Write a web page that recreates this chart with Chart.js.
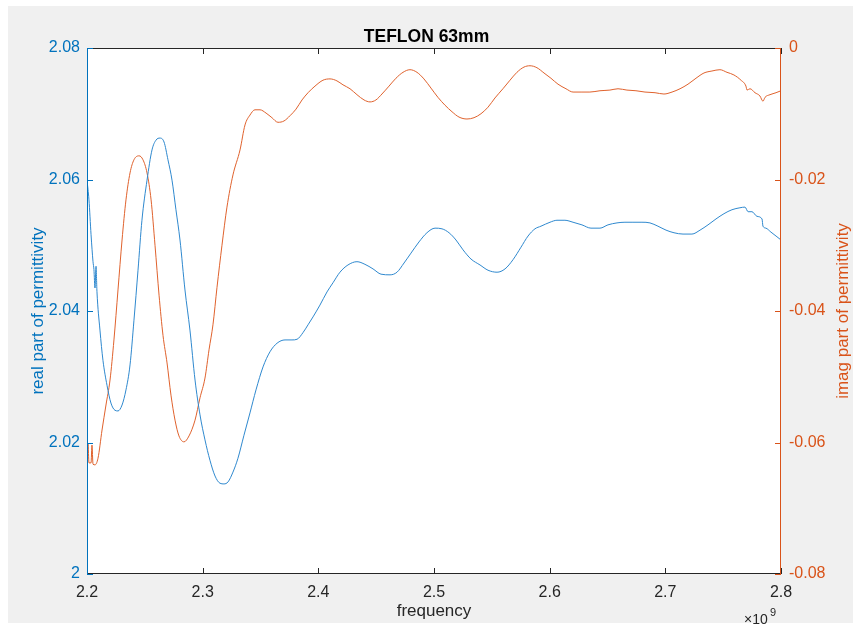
<!DOCTYPE html>
<html>
<head>
<meta charset="utf-8">
<script src="https://cdn.jsdelivr.net/npm/chart.js@4.4.0/dist/chart.umd.min.js"></script>
<style>
  body { margin: 0; background: #fff; }
  canvas { display: block; }
</style>
</head>
<body>
<canvas id="chart" width="853" height="630"></canvas>
<script>
// frequency in units of 1e9 Hz (axis shows x10^9)
const realFreq = [2.2000, 2.2017, 2.2035, 2.2052, 2.2060, 2.2069, 2.2078, 2.2086, 2.2112, 2.2138, 2.2173, 2.2207, 2.2242, 2.2268, 2.2303, 2.2337, 2.2372, 2.2406, 2.2441, 2.2475, 2.2519, 2.2562, 2.2597, 2.2631, 2.2666, 2.2700, 2.2735, 2.2769, 2.2804, 2.2847, 2.2890, 2.2934, 2.2977, 2.3020, 2.3063, 2.3107, 2.3150, 2.3184, 2.3219, 2.3262, 2.3305, 2.3357, 2.3409, 2.3461, 2.3522, 2.3582, 2.3643, 2.3712, 2.3772, 2.3816, 2.3867, 2.3911, 2.3954, 2.4014, 2.4075, 2.4127, 2.4187, 2.4256, 2.4334, 2.4403, 2.4473, 2.4542, 2.4620, 2.4680, 2.4741, 2.4801, 2.4870, 2.4939, 2.5009, 2.5069, 2.5130, 2.5190, 2.5251, 2.5320, 2.5398, 2.5467, 2.5545, 2.5614, 2.5683, 2.5752, 2.5813, 2.5873, 2.5925, 2.6003, 2.6063, 2.6132, 2.6202, 2.6279, 2.6357, 2.6435, 2.6504, 2.6582, 2.6651, 2.6720, 2.6798, 2.6867, 2.6936, 2.7006, 2.7075, 2.7153, 2.7230, 2.7300, 2.7369, 2.7438, 2.7507, 2.7576, 2.7645, 2.7689, 2.7715, 2.7749, 2.7792, 2.7836, 2.7844, 2.7870, 2.7913, 2.7957, 2.8000];
const realPart = [2.0599, 2.0569, 2.0516, 2.0475, 2.0463, 2.0435, 2.0468, 2.0430, 2.0371, 2.0325, 2.0287, 2.0260, 2.0249, 2.0248, 2.0257, 2.0280, 2.0318, 2.0386, 2.0462, 2.0538, 2.0599, 2.0645, 2.0660, 2.0663, 2.0657, 2.0630, 2.0599, 2.0554, 2.0508, 2.0432, 2.0371, 2.0295, 2.0242, 2.0204, 2.0173, 2.0149, 2.0138, 2.0137, 2.0140, 2.0155, 2.0176, 2.0211, 2.0245, 2.0280, 2.0315, 2.0338, 2.0351, 2.0356, 2.0356, 2.0357, 2.0367, 2.0379, 2.0391, 2.0409, 2.0429, 2.0443, 2.0459, 2.0470, 2.0475, 2.0471, 2.0464, 2.0456, 2.0455, 2.0459, 2.0473, 2.0488, 2.0505, 2.0519, 2.0526, 2.0525, 2.0519, 2.0508, 2.0493, 2.0479, 2.0470, 2.0462, 2.0459, 2.0464, 2.0478, 2.0497, 2.0514, 2.0525, 2.0529, 2.0535, 2.0538, 2.0538, 2.0535, 2.0531, 2.0526, 2.0526, 2.0531, 2.0534, 2.0535, 2.0535, 2.0535, 2.0534, 2.0529, 2.0523, 2.0519, 2.0517, 2.0517, 2.0523, 2.0531, 2.0540, 2.0548, 2.0554, 2.0557, 2.0558, 2.0551, 2.0551, 2.0544, 2.0540, 2.0529, 2.0526, 2.0520, 2.0514, 2.0508];

const imagFreq = [2.2000, 2.2009, 2.2017, 2.2035, 2.2043, 2.2052, 2.2069, 2.2095, 2.2130, 2.2164, 2.2199, 2.2233, 2.2268, 2.2303, 2.2337, 2.2372, 2.2406, 2.2450, 2.2484, 2.2519, 2.2554, 2.2588, 2.2623, 2.2657, 2.2692, 2.2726, 2.2761, 2.2795, 2.2839, 2.2882, 2.2934, 2.2977, 2.3020, 2.3055, 2.3089, 2.3124, 2.3167, 2.3210, 2.3262, 2.3323, 2.3366, 2.3409, 2.3452, 2.3496, 2.3548, 2.3599, 2.3651, 2.3703, 2.3755, 2.3807, 2.3859, 2.3911, 2.3971, 2.4040, 2.4101, 2.4161, 2.4213, 2.4274, 2.4334, 2.4395, 2.4447, 2.4498, 2.4550, 2.4611, 2.4671, 2.4732, 2.4792, 2.4853, 2.4913, 2.4974, 2.5034, 2.5095, 2.5156, 2.5216, 2.5285, 2.5346, 2.5406, 2.5467, 2.5527, 2.5596, 2.5657, 2.5717, 2.5778, 2.5830, 2.5890, 2.5951, 2.6011, 2.6072, 2.6141, 2.6202, 2.6279, 2.6348, 2.6435, 2.6521, 2.6591, 2.6668, 2.6746, 2.6824, 2.6911, 2.6988, 2.7058, 2.7127, 2.7196, 2.7265, 2.7334, 2.7403, 2.7472, 2.7533, 2.7593, 2.7654, 2.7697, 2.7706, 2.7732, 2.7775, 2.7818, 2.7844, 2.7862, 2.7905, 2.7957, 2.8000];
const imagPart = [-0.0630, -0.0602, -0.0631, -0.0631, -0.0604, -0.0633, -0.0634, -0.0624, -0.0581, -0.0543, -0.0505, -0.0444, -0.0368, -0.0292, -0.0231, -0.0190, -0.0170, -0.0164, -0.0170, -0.0190, -0.0231, -0.0300, -0.0376, -0.0437, -0.0479, -0.0528, -0.0566, -0.0590, -0.0599, -0.0590, -0.0566, -0.0532, -0.0502, -0.0459, -0.0421, -0.0364, -0.0300, -0.0242, -0.0193, -0.0155, -0.0117, -0.0102, -0.0094, -0.0094, -0.0099, -0.0106, -0.0113, -0.0111, -0.0103, -0.0093, -0.0079, -0.0068, -0.0058, -0.0049, -0.0047, -0.0050, -0.0056, -0.0062, -0.0071, -0.0079, -0.0082, -0.0079, -0.0070, -0.0058, -0.0046, -0.0037, -0.0033, -0.0037, -0.0047, -0.0061, -0.0075, -0.0087, -0.0097, -0.0105, -0.0108, -0.0106, -0.0100, -0.0090, -0.0076, -0.0062, -0.0049, -0.0037, -0.0029, -0.0027, -0.0030, -0.0038, -0.0046, -0.0055, -0.0062, -0.0067, -0.0067, -0.0067, -0.0065, -0.0064, -0.0062, -0.0064, -0.0065, -0.0067, -0.0068, -0.0070, -0.0067, -0.0062, -0.0055, -0.0046, -0.0038, -0.0035, -0.0033, -0.0037, -0.0041, -0.0049, -0.0058, -0.0064, -0.0062, -0.0068, -0.0073, -0.0081, -0.0075, -0.0071, -0.0068, -0.0065];

const BLUE = '#0072BD';
const ORANGE = '#D95319';
const AXIS = '#262626';
const FONT = "'Liberation Sans', Arial, Helvetica, sans-serif";

function pts(xs, ys) {
  return xs.map((x, i) => ({ x: x, y: ys[i] }));
}

// grey figure background + white axes area
const background = {
  id: 'background',
  beforeDraw(chart) {
    const { ctx, chartArea: a } = chart;
    ctx.save();
    ctx.fillStyle = '#fff';
    ctx.fillRect(0, 0, chart.width, chart.height);
    ctx.fillStyle = '#f0f0f0';
    ctx.fillRect(8, 6, chart.width - 8, 617);
    ctx.fillStyle = '#fff';
    ctx.fillRect(a.left, a.top, a.right - a.left, a.bottom - a.top);
    ctx.restore();
  }
};

// matlab style box with inward ticks, right label, exponent
const matlabAxes = {
  id: 'matlabAxes',
  afterDraw(chart) {
    const { ctx, chartArea: a, scales } = chart;
    const len = 6;
    ctx.save();
    ctx.lineWidth = 1;
    ctx.strokeStyle = AXIS;
    ctx.beginPath();
    ctx.moveTo(a.left, a.top + 0.5); ctx.lineTo(a.right, a.top + 0.5);
    ctx.moveTo(a.left, a.bottom - 0.5); ctx.lineTo(a.right, a.bottom - 0.5);
    scales.x.ticks.forEach(t => {
      const px = Math.round(scales.x.getPixelForValue(t.value)) + 0.5;
      ctx.moveTo(px, a.top); ctx.lineTo(px, a.top + len);
      ctx.moveTo(px, a.bottom); ctx.lineTo(px, a.bottom - len);
    });
    ctx.stroke();

    ctx.strokeStyle = BLUE;
    ctx.beginPath();
    ctx.moveTo(a.left + 0.5, a.top); ctx.lineTo(a.left + 0.5, a.bottom);
    scales.y.ticks.forEach(t => {
      const py = Math.round(scales.y.getPixelForValue(t.value)) + 0.5;
      ctx.moveTo(a.left, py); ctx.lineTo(a.left + len, py);
    });
    ctx.stroke();

    ctx.strokeStyle = ORANGE;
    ctx.beginPath();
    ctx.moveTo(a.right - 0.5, a.top); ctx.lineTo(a.right - 0.5, a.bottom);
    scales.y1.ticks.forEach(t => {
      const py = Math.round(scales.y1.getPixelForValue(t.value)) + 0.5;
      ctx.moveTo(a.right, py); ctx.lineTo(a.right - len, py);
    });
    ctx.stroke();

    // right axis label, reading bottom to top like the left one
    ctx.fillStyle = ORANGE;
    ctx.font = '17px ' + FONT;
    ctx.textAlign = 'center';
    ctx.textBaseline = 'middle';
    ctx.translate(843, (a.top + a.bottom) / 2);
    ctx.rotate(-Math.PI / 2);
    ctx.fillText('imag part of permittivity', 0, 0);
    ctx.setTransform(1, 0, 0, 1, 0, 0);

    // x10^9
    ctx.fillStyle = AXIS;
    ctx.textAlign = 'left';
    ctx.textBaseline = 'alphabetic';
    ctx.font = '14px ' + FONT;
    ctx.fillText('\u00d710', 744, 624);
    ctx.font = '11px ' + FONT;
    ctx.fillText('9', 770, 616);
    ctx.restore();
  }
};

const config = {
  type: 'line',
  data: {
    datasets: [
      {
        label: 'real part of permittivity',
        data: pts(realFreq, realPart),
        borderColor: '#2f89cf',
        borderWidth: 1,
        pointRadius: 0,
        cubicInterpolationMode: 'monotone',
        yAxisID: 'y'
      },
      {
        label: 'imag part of permittivity',
        data: pts(imagFreq, imagPart),
        borderColor: '#e0622d',
        borderWidth: 1,
        pointRadius: 0,
        cubicInterpolationMode: 'monotone',
        yAxisID: 'y1'
      }
    ]
  },
  options: {
    responsive: false,
    animation: false,
    layout: { padding: 0 },
    plugins: {
      legend: { display: false },
      tooltip: { enabled: false },
      title: {
        display: true,
        text: 'TEFLON 63mm',
        color: '#000',
        font: { family: FONT, size: 17.5, weight: 'bold' },
        padding: { top: 27, bottom: 0 }
      }
    },
    scales: {
      x: {
        type: 'linear',
        min: 2.2,
        max: 2.8,
        grid: { display: false, drawTicks: false },
        border: { display: false },
        ticks: {
          stepSize: 0.1,
          color: AXIS,
          padding: 9,
          maxRotation: 0,
          font: { family: FONT, size: 16 },
          callback: v => v.toFixed(1)
        },
        title: {
          display: true,
          text: 'frequency',
          color: AXIS,
          font: { family: FONT, size: 17 },
          padding: { top: 0, bottom: 8.8 }
        },
        afterFit(scale) { scale.height = 56; }
      },
      y: {
        position: 'left',
        min: 2,
        max: 2.08,
        grid: { display: false, drawTicks: false },
        border: { display: false },
        ticks: {
          stepSize: 0.02,
          color: BLUE,
          padding: 7,
          font: { family: FONT, size: 16 },
          callback: v => (Math.abs(v - 2) < 1e-9 ? '2' : v.toFixed(2))
        },
        title: {
          display: true,
          text: 'real part of permittivity',
          color: BLUE,
          font: { family: FONT, size: 17 },
          padding: { top: 27.8, bottom: 0 }
        },
        afterFit(scale) { scale.width = 87; }
      },
      y1: {
        position: 'right',
        min: -0.08,
        max: 0,
        grid: { display: false, drawTicks: false },
        border: { display: false },
        ticks: {
          stepSize: 0.02,
          color: ORANGE,
          padding: 8,
          font: { family: FONT, size: 16 },
          callback: v => (Math.abs(v) < 1e-9 ? '0' : v.toFixed(2))
        },
        afterFit(scale) { scale.width = 72; }
      }
    }
  },
  plugins: [background, matlabAxes]
};

const ctx = document.getElementById('chart');
window.myChart = new Chart(ctx, config);
</script>
</body>
</html>
